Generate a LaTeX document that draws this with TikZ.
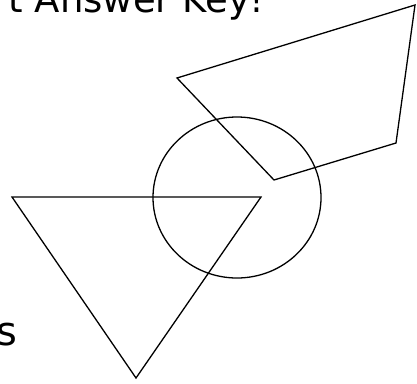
\documentclass[tikz,border=0pt]{standalone}
\usepackage{fontspec}
\setmainfont{DejaVu Sans}
\begin{document}
\begin{tikzpicture}[x=1pt,y=1pt,
  shape line/.style={draw=black,line width=1.3pt,line join=miter},
  big text/.style={inner sep=0pt,font=\fontsize{37}{40}\selectfont}]
\useasboundingbox (0,0) rectangle (417,-383);
\clip (0,0) rectangle (417,-383);
% quadrilateral
\coordinate (q1) at (415,-5);
\coordinate (q2) at (177,-78);
\coordinate (q3) at (274,-180);
\coordinate (q4) at (396,-143);
\draw[shape line] (q1) -- (q2) -- (q3) -- (q4) -- cycle;
% circle
\coordinate (c) at (237,-197.5);
\draw[shape line] (c) ellipse [x radius=84, y radius=80.5];
% triangle
\coordinate (t1) at (12,-197);
\coordinate (t2) at (261,-197);
\coordinate (t3) at (136,-378);
\draw[shape line] (t1) -- (t2) -- (t3) -- cycle;
% texts
\node[big text,anchor=base east] (title) at (265,-12) {t Answer Key!};
\node[big text,anchor=base east,font=\fontsize{40}{44}\selectfont] (s) at (18,-345) {s};
\end{tikzpicture}
\end{document}
